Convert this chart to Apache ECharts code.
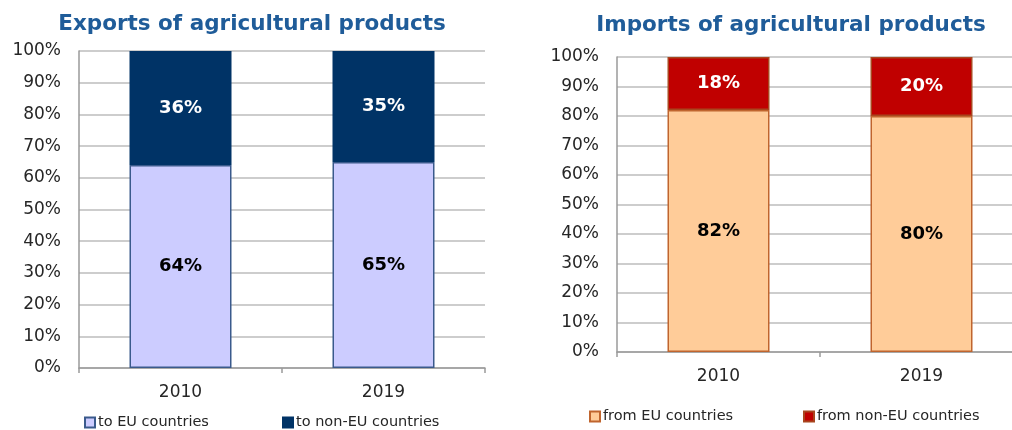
<!DOCTYPE html>
<html>
<head>
<meta charset="utf-8">
<script src="https://cdn.jsdelivr.net/npm/echarts@6/dist/echarts.min.js"></script>
<style>
  html, body { margin: 0; padding: 0; background: #fff; }
  #chart { width: 1012px; height: 430px; }
</style>
</head>
<body>
<div id="chart"></div>
<script>
  var years = ['2010', '2019']
  var exportsEU = [64, 65]
  var exportsNonEU = [36, 35]
  var importsEU = [82, 80]
  var importsNonEU = [18, 20]

  var FONT = 'DejaVu Sans'
  var chart = echarts.init(document.getElementById('chart'))

  function yAxis(idx) {
    return {
      gridIndex: idx,
      type: 'value',
      min: 0,
      max: 100,
      interval: 10,
      axisLine: { show: true, lineStyle: { color: '#9a9a9a', width: 1.5 } },
      axisTick: { show: false },
      axisLabel: { formatter: '{value}%', color: '#262626', fontFamily: FONT, fontSize: 17, margin: 18 },
      splitLine: { lineStyle: { color: '#bdbdbd', width: 1.5 } }
    }
  }
  function xAxis(idx) {
    return {
      gridIndex: idx,
      type: 'category',
      data: years,
      axisLine: { lineStyle: { color: '#9a9a9a', width: 1.5 } },
      axisTick: { show: true, length: 5, lineStyle: { color: '#9a9a9a', width: 1.5 } },
      axisLabel: { color: '#262626', fontFamily: FONT, fontSize: 17, margin: 16 }
    }
  }
  function bar(name, data, idx, fill, border, textColor) {
    return {
      name: name,
      type: 'bar',
      stack: 's' + idx,
      xAxisIndex: idx,
      yAxisIndex: idx,
      data: data,
      barWidth: 102,
      itemStyle: { color: fill, borderColor: border, borderWidth: 1.5 },
      label: {
        show: true,
        position: 'inside',
        formatter: '{c}%',
        color: textColor,
        fontFamily: FONT,
        fontWeight: 'bold',
        fontSize: 18
      }
    }
  }
  function legend(name, left, top) {
    return {
      data: [name],
      left: left,
      top: top,
      icon: 'rect',
      itemWidth: 10,
      itemHeight: 10,
      itemGap: 0,
      padding: 0,
      textStyle: { color: '#262626', fontFamily: FONT, fontSize: 14.5, padding: [0, 0, 0, -2] }
    }
  }

  var option = {
    animation: false,
    title: [
      {
        text: 'Exports of agricultural products',
        left: 247, top: 8, textAlign: 'center',
        textStyle: { color: '#1f5c99', fontFamily: FONT, fontWeight: 'bold', fontSize: 21.5 }
      },
      {
        text: 'Imports of agricultural products',
        left: 786, top: 9, textAlign: 'center',
        textStyle: { color: '#1f5c99', fontFamily: FONT, fontWeight: 'bold', fontSize: 21.5 }
      }
    ],
    legend: [
      legend('to EU countries', 84, 415),
      legend('to non-EU countries', 282, 415),
      legend('from EU countries', 589, 409),
      legend('from non-EU countries', 803, 409)
    ],
    grid: [
      { left: 79, top: 51, width: 406, height: 317, outerBoundsMode: 'none' },
      { left: 617, top: 57, width: 406, height: 295, outerBoundsMode: 'none' }
    ],
    xAxis: [xAxis(0), xAxis(1)],
    yAxis: [yAxis(0), yAxis(1)],
    series: [
      bar('to EU countries', exportsEU, 0, '#ccccff', '#3a5a8c', '#000'),
      bar('to non-EU countries', exportsNonEU, 0, '#003366', '#003366', '#fff'),
      bar('from EU countries', importsEU, 1, '#ffcc99', '#c0652e', '#000'),
      bar('from non-EU countries', importsNonEU, 1, '#c00000', '#a8461e', '#fff')
    ]
  }
  chart.setOption(option)
</script>
</body>
</html>
